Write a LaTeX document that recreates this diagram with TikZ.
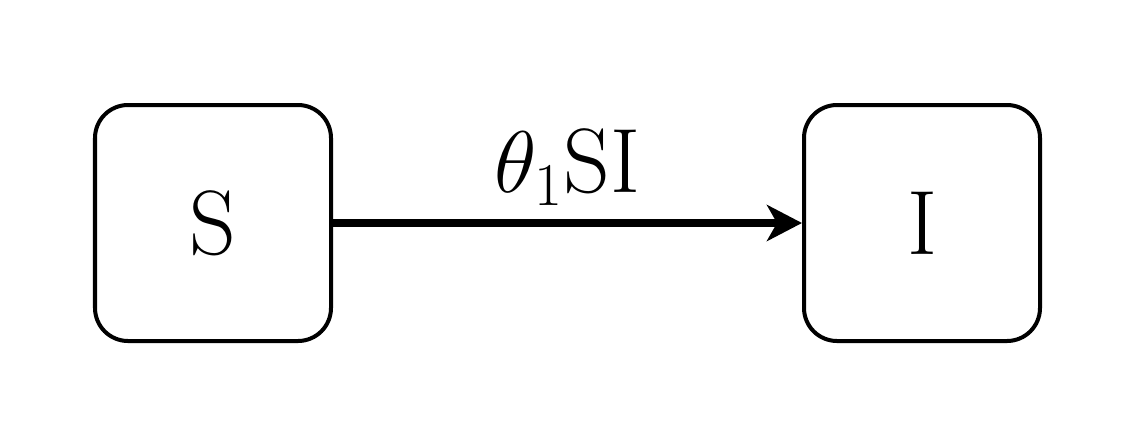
\documentclass[tikz,border=0pt]{standalone}
\usetikzlibrary{positioning, arrows.meta}

\begin{document}
\begin{tikzpicture}
[
	compartment/.style	=
	{
		draw,
		line width		= 1.14pt,
		rounded corners	= 3.3mm,
		minimum size	= 2.36cm,
		font			= \fontsize{26}{31}\selectfont
	},
	flow/.style			=
	{
		line width		= 2.3pt,
		-{Stealth[length = 3.5mm, width = 3.6mm, inset = 1mm]}
	},
]

\useasboundingbox (0,0) rectangle (11.37,4.38);

\node [compartment] (S) at (2.13,2.15) {S};
\node [compartment, right = 4.69cm of S] (I) {I}; % same size, same height

\draw [flow] (S) -- (I)
	node [midway, above = 0.02cm, font = \fontsize{26}{31}\selectfont] {$\theta_1$SI};

\end{tikzpicture}
\end{document}
